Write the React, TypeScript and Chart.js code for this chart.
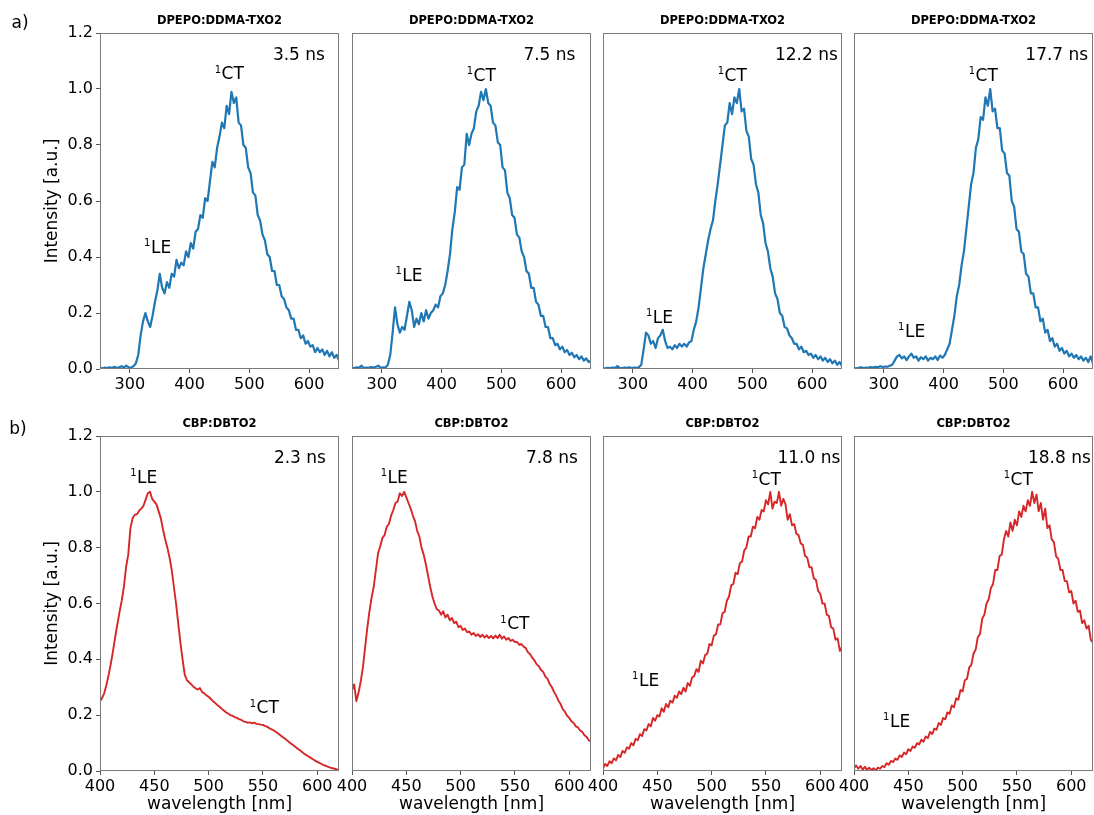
import React, { useEffect, useRef } from "react";
import { Chart, registerables } from "chart.js";

Chart.register(...registerables);

const FONT = "'DejaVu Sans', 'Liberation Sans', sans-serif";

// wavelength grids (nm)
const TOP_WL_START = 250;
const TOP_WL_STEP = 4;
const BOT_WL_START = 400;
const BOT_WL_STEP = 2;

const TOP_X_TICKS = [300, 400, 500, 600];
const BOT_X_TICKS = [400, 450, 500, 550, 600];
const Y_TICKS = [0, 0.2, 0.4, 0.6, 0.8, 1.0, 1.2];

const TOP_TITLE = "DPEPO:DDMA-TXO2";
const BOT_TITLE = "CBP:DBTO2";
const TOP_TIMES = ["3.5 ns", "7.5 ns", "12.2 ns", "17.7 ns"];
const BOT_TIMES = ["2.3 ns", "7.8 ns", "11.0 ns", "18.8 ns"];

// a) DPEPO:DDMA-TXO2 spectra, 250..650 nm every 4 nm
const A_3_5NS = [
  0.004, 0.002, 0.005, 0.003, 0.006, 0.004, 0.008, 0.003, 0.006, 0.01,
  0.005, 0.012, 0.006, 0.004, 0.01, 0.02, 0.05, 0.12, 0.17, 0.2,
  0.17, 0.15, 0.19, 0.24, 0.28, 0.34, 0.29, 0.27, 0.31, 0.29,
  0.34, 0.33, 0.39, 0.36, 0.38, 0.37, 0.42, 0.4, 0.45, 0.43,
  0.49, 0.5, 0.55, 0.54, 0.61, 0.6, 0.67, 0.74, 0.72, 0.79,
  0.83, 0.88, 0.86, 0.94, 0.91, 0.99, 0.95, 0.97, 0.88, 0.87,
  0.8, 0.79, 0.72, 0.7, 0.63, 0.62, 0.55, 0.53, 0.48, 0.46,
  0.41, 0.4, 0.35, 0.35, 0.3, 0.3, 0.26, 0.25, 0.22, 0.21,
  0.18, 0.18, 0.14, 0.14, 0.11, 0.12, 0.09, 0.1, 0.08, 0.085,
  0.06, 0.075, 0.06, 0.07, 0.05, 0.065, 0.045, 0.06, 0.04, 0.05,
  0.03,
];
const A_7_5NS = [
  0.004, 0.003, 0.006, 0.004, 0.012, 0.003, 0.005, 0.004, 0.007, 0.005,
  0.008, 0.012, 0.004, 0.006, 0.005, 0.015, 0.05, 0.13, 0.22, 0.16,
  0.13, 0.15, 0.14, 0.19, 0.24, 0.21, 0.15, 0.18, 0.16, 0.2,
  0.17, 0.21, 0.18, 0.2, 0.21, 0.23, 0.22, 0.26, 0.27, 0.3,
  0.35, 0.41, 0.5, 0.56, 0.65, 0.64, 0.72, 0.73, 0.84, 0.8,
  0.84, 0.86, 0.92, 0.94, 0.99, 0.96, 1.0, 0.95, 0.94, 0.88,
  0.87, 0.81, 0.8, 0.72, 0.71, 0.63, 0.61, 0.55, 0.54, 0.48,
  0.47, 0.42, 0.4, 0.35, 0.34, 0.29, 0.29, 0.24, 0.23, 0.19,
  0.19, 0.15, 0.15, 0.11, 0.11, 0.085, 0.09, 0.07, 0.08, 0.06,
  0.068, 0.05, 0.058, 0.042, 0.05, 0.035, 0.045, 0.03, 0.038, 0.025,
  0.03,
];
const A_12_2NS = [
  0.003, 0.002, 0.004, 0.003, 0.005, 0.003, 0.01, 0.004, 0.003, 0.005,
  0.004, 0.006, 0.003, 0.005, 0.004, 0.006, 0.015, 0.07, 0.13, 0.12,
  0.09, 0.1, 0.075, 0.11, 0.12, 0.14, 0.1, 0.075, 0.08, 0.07,
  0.085, 0.075, 0.09, 0.08, 0.09, 0.08, 0.095, 0.1, 0.14, 0.17,
  0.22, 0.29, 0.36, 0.41, 0.46, 0.5, 0.53, 0.6, 0.66, 0.73,
  0.8, 0.87, 0.88, 0.95, 0.91, 0.97, 0.95, 1.0, 0.92, 0.93,
  0.85, 0.83, 0.75, 0.73, 0.66, 0.63, 0.55, 0.52, 0.45, 0.42,
  0.36, 0.33, 0.27, 0.25, 0.2, 0.19, 0.15, 0.145, 0.12, 0.11,
  0.09, 0.09, 0.07, 0.08, 0.06, 0.065, 0.05, 0.055, 0.04, 0.05,
  0.035, 0.045, 0.03, 0.04, 0.025, 0.035, 0.02, 0.03, 0.015, 0.025,
  0.01,
];
const A_17_7NS = [
  0.003, 0.002, 0.004, 0.006, 0.003, 0.005, 0.004, 0.007, 0.005, 0.008,
  0.006, 0.01, 0.007, 0.009, 0.008, 0.012, 0.015, 0.03, 0.045, 0.05,
  0.038, 0.045, 0.032, 0.045, 0.055, 0.04, 0.045, 0.03, 0.042, 0.035,
  0.045, 0.03, 0.04, 0.035, 0.045, 0.032, 0.048, 0.04, 0.05, 0.07,
  0.09, 0.14, 0.19, 0.26, 0.3, 0.37, 0.42, 0.5, 0.58, 0.66,
  0.7, 0.79, 0.82, 0.9, 0.89, 0.97, 0.94, 1.0, 0.92, 0.93,
  0.86, 0.86, 0.78, 0.77, 0.7, 0.69, 0.6, 0.58, 0.5, 0.49,
  0.42, 0.41, 0.34, 0.33, 0.27, 0.27, 0.22, 0.22, 0.17, 0.18,
  0.13, 0.14, 0.1, 0.11, 0.08, 0.09, 0.065, 0.075, 0.055, 0.065,
  0.045, 0.055, 0.04, 0.05, 0.035, 0.045, 0.03, 0.04, 0.025, 0.045,
  0.02,
];

// b) CBP:DBTO2 spectra, 400..620 nm every 2 nm
const B_2_3NS = [
  0.25, 0.262, 0.28, 0.31, 0.345, 0.385, 0.43, 0.48, 0.525, 0.57,
  0.61, 0.66, 0.73, 0.775, 0.87, 0.905, 0.918, 0.92, 0.932, 0.94,
  0.95, 0.972, 0.995, 1.0, 0.975, 0.965, 0.955, 0.93, 0.905, 0.865,
  0.83, 0.8, 0.765, 0.72, 0.66, 0.6, 0.53, 0.46, 0.4, 0.345,
  0.325, 0.318, 0.31, 0.302, 0.296, 0.292, 0.297, 0.283, 0.278, 0.271,
  0.266, 0.258, 0.25, 0.244, 0.236, 0.23, 0.223, 0.217, 0.21, 0.206,
  0.2, 0.198, 0.193, 0.19, 0.186, 0.183, 0.178, 0.176, 0.173, 0.174,
  0.171, 0.173, 0.169, 0.168, 0.166, 0.165, 0.161, 0.158, 0.153, 0.149,
  0.145, 0.14, 0.134, 0.128, 0.122, 0.116, 0.11, 0.104, 0.098, 0.092,
  0.086, 0.08, 0.074, 0.068, 0.062, 0.057, 0.052, 0.047, 0.042, 0.037,
  0.033, 0.029, 0.025, 0.021, 0.018, 0.015, 0.012, 0.01, 0.008, 0.006,
  0.004,
];
const B_7_8NS = [
  0.29, 0.31, 0.25, 0.28, 0.32, 0.37, 0.44, 0.51, 0.57, 0.62,
  0.66, 0.72, 0.78, 0.805, 0.835, 0.845, 0.875, 0.885, 0.915, 0.935,
  0.96, 0.965, 0.995, 0.985, 1.0, 0.98, 0.96, 0.94, 0.915, 0.895,
  0.86, 0.84, 0.8, 0.775, 0.74, 0.7, 0.66, 0.625, 0.6, 0.58,
  0.575, 0.56, 0.572, 0.55, 0.56, 0.54, 0.548, 0.53, 0.535, 0.515,
  0.52, 0.505, 0.51, 0.497, 0.5, 0.488, 0.494, 0.484, 0.49, 0.48,
  0.488, 0.478, 0.486, 0.476, 0.484, 0.475, 0.485, 0.476, 0.488, 0.474,
  0.482, 0.47, 0.476, 0.466, 0.47, 0.462, 0.462, 0.452, 0.455, 0.445,
  0.44, 0.425, 0.418, 0.405, 0.396, 0.382, 0.375, 0.362, 0.355, 0.338,
  0.33, 0.312, 0.3, 0.283, 0.27, 0.252, 0.24, 0.222, 0.212, 0.198,
  0.19, 0.178, 0.172, 0.16, 0.156, 0.145, 0.14, 0.128, 0.122, 0.11,
  0.105,
];
const B_11_0NS = [
  0.01, 0.025, 0.018, 0.035, 0.028, 0.045, 0.038, 0.058, 0.05, 0.072,
  0.065, 0.085, 0.08, 0.1, 0.092, 0.115, 0.11, 0.132, 0.125, 0.15,
  0.145, 0.168, 0.16, 0.19, 0.18, 0.2, 0.195, 0.225, 0.212, 0.24,
  0.228, 0.252, 0.245, 0.27, 0.262, 0.285, 0.275, 0.298, 0.285, 0.315,
  0.305, 0.335, 0.34, 0.365, 0.355, 0.395, 0.385, 0.415, 0.42, 0.455,
  0.45, 0.485, 0.49, 0.525, 0.525, 0.565, 0.57, 0.61, 0.625, 0.665,
  0.67, 0.71, 0.705, 0.745, 0.75, 0.79, 0.8, 0.84, 0.84, 0.875,
  0.87, 0.91, 0.9, 0.935, 0.93, 0.97, 0.955, 1.0, 0.94, 0.965,
  0.96, 1.0, 0.95, 0.975, 0.955, 0.9, 0.92, 0.88, 0.885, 0.85,
  0.845, 0.815, 0.81, 0.77, 0.765, 0.73, 0.73, 0.69, 0.685, 0.645,
  0.635, 0.6, 0.6, 0.56, 0.555, 0.515, 0.51, 0.47, 0.475, 0.43,
  0.445,
];
const B_18_8NS = [
  0.01, 0.02, 0.008, 0.018, 0.005, 0.015, 0.004, 0.012, 0.003, 0.01,
  0.002, 0.012, 0.008, 0.018, 0.014, 0.028, 0.022, 0.036, 0.032, 0.045,
  0.04, 0.056, 0.05, 0.066, 0.06, 0.078, 0.072, 0.088, 0.083, 0.1,
  0.095, 0.112, 0.105, 0.124, 0.118, 0.14, 0.132, 0.152, 0.148, 0.172,
  0.165, 0.19, 0.185, 0.21, 0.205, 0.235, 0.228, 0.26, 0.255, 0.29,
  0.285, 0.325, 0.33, 0.37, 0.38, 0.42, 0.435, 0.48, 0.49, 0.545,
  0.56, 0.6, 0.615, 0.655, 0.67, 0.72, 0.72, 0.77, 0.775, 0.83,
  0.86, 0.84, 0.89, 0.86, 0.9, 0.88, 0.93, 0.91, 0.95, 0.93,
  0.97, 0.95, 1.0, 0.96, 0.99, 0.93, 0.96, 0.9, 0.94, 0.87,
  0.88, 0.83, 0.82, 0.77, 0.76, 0.72, 0.72, 0.68, 0.68, 0.64,
  0.645, 0.6, 0.61, 0.57, 0.575, 0.53, 0.54, 0.51, 0.52, 0.47,
  0.46,
];

const TOP_SERIES = [A_3_5NS, A_7_5NS, A_12_2NS, A_17_7NS];
const BOT_SERIES = [B_2_3NS, B_7_8NS, B_11_0NS, B_18_8NS];

// annotation anchors in data coordinates [nm, intensity]
const TOP_CT_AT = [[466, 1.05], [466, 1.046], [466, 1.046], [466, 1.046]];
const TOP_LE_AT = [[346, 0.43], [345, 0.33], [344, 0.18], [346, 0.13]];
const TOP_TIME_AT = [[626.5, 1.12], [624, 1.12], [643, 1.12], [642, 1.12]];
const BOT_LE_AT = [[440, 1.047], [438.6, 1.047], [439, 0.32], [439, 0.175]];
const BOT_CT_AT = [[551, 0.222], [549.7, 0.523], [550, 1.04], [551, 1.04]];
const BOT_TIME_AT = [[608, 1.12], [608, 1.12], [618.5, 1.12], [618, 1.12]];

// layout
const COL_LEFT = [100, 352, 603, 854];
const PANEL_W = 239;
const ROWS = [
  { top: 33, h: 336 },
  { top: 436, h: 335 },
];
const PAD_T = 33;
const PAD_R = 20;
const PAD_B = 44;

type Cfg = {
  row: number;
  col: number;
  wl: number[];
  vals: number[];
  color: string;
  lineW: number;
  xmin: number;
  xmax: number;
  xticks: number[];
  title: string;
  time: string;
  timeAt: number[];
  ct: number[];
  le: number[];
};

function supLabel(ctx: CanvasRenderingContext2D, cx: number, cy: number, main: string) {
  const sup = "1";
  ctx.font = `10px ${FONT}`;
  const ws = ctx.measureText(sup).width;
  ctx.font = `17px ${FONT}`;
  const wm = ctx.measureText(main).width;
  const x0 = cx - (ws + wm) / 2;
  ctx.textAlign = "left";
  ctx.textBaseline = "middle";
  ctx.font = `10px ${FONT}`;
  ctx.fillText(sup, x0, cy - 5);
  ctx.font = `17px ${FONT}`;
  ctx.fillText(main, x0 + ws + 0.5, cy);
}

function makeDecor(cfg: Cfg, offX: number, offY: number) {
  return {
    id: "decor" + cfg.row + cfg.col,
    afterDatasetsDraw(chart: any) {
      const { ctx, chartArea: ca, scales } = chart;
      const xs = scales.x;
      const ys = scales.y;
      ctx.save();
      // frame
      ctx.strokeStyle = "#7a7a7a";
      ctx.lineWidth = 1;
      ctx.strokeRect(ca.left + 0.5, ca.top + 0.5, ca.right - ca.left - 1, ca.bottom - ca.top - 1);
      ctx.fillStyle = "#000";
      // title
      ctx.font = `bold 11.5px ${FONT}`;
      ctx.textAlign = "center";
      ctx.textBaseline = "middle";
      ctx.fillText(cfg.title, (ca.left + ca.right) / 2, ca.top - 12);
      // time label
      ctx.font = `17px ${FONT}`;
      ctx.textAlign = "right";
      ctx.textBaseline = "middle";
      ctx.fillText(cfg.time, xs.getPixelForValue(cfg.timeAt[0]), ys.getPixelForValue(cfg.timeAt[1]));
      // band labels
      supLabel(ctx, xs.getPixelForValue(cfg.ct[0]), ys.getPixelForValue(cfg.ct[1]), "CT");
      supLabel(ctx, xs.getPixelForValue(cfg.le[0]), ys.getPixelForValue(cfg.le[1]), "LE");
      // axis titles
      if (cfg.col === 0) {
        ctx.save();
        ctx.translate(53 - offX, (ca.top + ca.bottom) / 2);
        ctx.rotate(-Math.PI / 2);
        ctx.font = `17px ${FONT}`;
        ctx.textAlign = "center";
        ctx.textBaseline = "middle";
        ctx.fillText("Intensity [a.u.]", 0, 0);
        ctx.restore();
        ctx.font = `17px ${FONT}`;
        ctx.textAlign = "center";
        ctx.textBaseline = "middle";
        ctx.fillText(cfg.row === 0 ? "a)" : "b)", (cfg.row === 0 ? 20 : 18) - offX, (cfg.row === 0 ? 24 : 430) - offY);
      }
      if (cfg.row === 1) {
        ctx.font = `17px ${FONT}`;
        ctx.textAlign = "center";
        ctx.textBaseline = "middle";
        ctx.fillText("wavelength [nm]", (ca.left + ca.right) / 2, ca.bottom + 34);
      }
      ctx.restore();
    },
  };
}

function Panel({ cfg }: { cfg: Cfg }) {
  const ref = useRef<HTMLCanvasElement>(null);
  const padL = cfg.col === 0 ? 100 : 20;
  const row = ROWS[cfg.row];
  const left = COL_LEFT[cfg.col] - padL;
  const top = row.top - PAD_T;
  const w = padL + PANEL_W + PAD_R;
  const h = PAD_T + row.h + PAD_B;

  useEffect(() => {
    const pts = cfg.wl.map((x, i) => ({ x, y: cfg.vals[i] }));
    const chart = new Chart(ref.current as HTMLCanvasElement, {
      type: "line",
      data: {
        datasets: [
          {
            data: pts,
            borderColor: cfg.color,
            borderWidth: cfg.lineW,
            borderJoinStyle: "round",
            pointRadius: 0,
            tension: 0,
            fill: false,
          },
        ],
      },
      plugins: [makeDecor(cfg, left, top)],
      options: {
        animation: false,
        responsive: false,
        maintainAspectRatio: false,
        events: [],
        layout: { padding: { left: 0, top: PAD_T, right: PAD_R, bottom: 0 } },
        plugins: {
          legend: { display: false },
          title: { display: false },
          tooltip: { enabled: false },
        },
        scales: {
          x: {
            type: "linear",
            min: cfg.xmin,
            max: cfg.xmax,
            border: { display: false },
            grid: {
              display: true,
              drawOnChartArea: false,
              color: "rgba(0,0,0,0)",
              tickColor: "#555",
              tickLength: 4,
              tickWidth: 1,
            },
            ticks: {
              color: "#000",
              font: { family: FONT, size: 16 },
              padding: 2,
              maxRotation: 0,
              autoSkip: false,
              callback: (v: any) => String(v),
            },
            afterBuildTicks: (s: any) => {
              s.ticks = cfg.xticks.map((v) => ({ value: v }));
            },
            afterFit: (s: any) => {
              s.height = PAD_B;
            },
          },
          y: {
            type: "linear",
            min: 0,
            max: 1.2,
            border: { display: false },
            grid: {
              display: cfg.col === 0,
              drawOnChartArea: false,
              color: "rgba(0,0,0,0)",
              tickColor: "#555",
              tickLength: 4,
              tickWidth: 1,
            },
            ticks: {
              display: cfg.col === 0,
              color: "#000",
              font: { family: FONT, size: 16 },
              padding: 3,
              autoSkip: false,
              callback: (v: any) => Number(v).toFixed(1),
            },
            afterBuildTicks: (s: any) => {
              s.ticks = Y_TICKS.map((v) => ({ value: v }));
            },
            afterFit: (s: any) => {
              s.width = padL;
            },
          },
        },
      } as any,
    });
    return () => chart.destroy();
  }, []);

  return (
    <canvas
      ref={ref}
      width={w}
      height={h}
      style={{ position: "absolute", left, top, width: w, height: h }}
    />
  );
}

function grid(start: number, step: number, n: number) {
  return Array.from({ length: n }, (_, i) => start + step * i);
}

export default function App() {
  const cfgs: Cfg[] = [];
  for (let c = 0; c < 4; c++) {
    cfgs.push({
      row: 0,
      col: c,
      wl: grid(TOP_WL_START, TOP_WL_STEP, TOP_SERIES[c].length),
      vals: TOP_SERIES[c],
      color: "#1f77b4",
      lineW: 2.2,
      xmin: 250,
      xmax: 650,
      xticks: TOP_X_TICKS,
      title: TOP_TITLE,
      time: TOP_TIMES[c],
      timeAt: TOP_TIME_AT[c],
      ct: TOP_CT_AT[c],
      le: TOP_LE_AT[c],
    });
  }
  for (let c = 0; c < 4; c++) {
    cfgs.push({
      row: 1,
      col: c,
      wl: grid(BOT_WL_START, BOT_WL_STEP, BOT_SERIES[c].length),
      vals: BOT_SERIES[c],
      color: "#d62728",
      lineW: 1.9,
      xmin: 400,
      xmax: 620,
      xticks: BOT_X_TICKS,
      title: BOT_TITLE,
      time: BOT_TIMES[c],
      timeAt: BOT_TIME_AT[c],
      ct: BOT_CT_AT[c],
      le: BOT_LE_AT[c],
    });
  }
  return (
    <div
      style={{
        position: "absolute",
        left: 0,
        top: 0,
        width: 1094,
        height: 815,
        overflow: "hidden",
        background: "#fff",
      }}
    >
      {cfgs.map((cfg) => (
        <Panel key={`${cfg.row}-${cfg.col}`} cfg={cfg} />
      ))}
    </div>
  );
}
